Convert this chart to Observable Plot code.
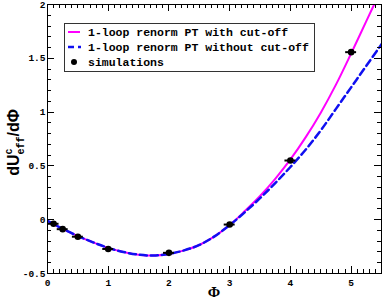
<!DOCTYPE html>
<html><head><meta charset="utf-8">
<script src="https://cdn.jsdelivr.net/npm/d3@7"></script>
<script src="https://cdn.jsdelivr.net/npm/@observablehq/plot@0.6"></script>
<style>body{margin:0;background:#fff} svg{overflow:visible}</style>
</head><body><div id="chart"></div>
<script>
// Curves (Φ grid and dU_eff^c/dΦ values)
const phiGrid    = [0, 0.25, 0.5, 0.75, 1, 1.25, 1.5, 1.75, 2, 2.25, 2.5, 2.75, 3, 3.25, 3.5, 3.75, 4, 4.25, 4.5, 4.75, 5, 5.25, 5.5];
const withCut    = [-0.01, -0.085, -0.152, -0.21, -0.262, -0.3, -0.325, -0.333, -0.318, -0.285, -0.235, -0.155, -0.05, 0.08, 0.22, 0.38, 0.56, 0.765, 0.995, 1.255, 1.545, 1.845, 2.145];
const withoutCut = [-0.01, -0.085, -0.152, -0.21, -0.262, -0.3, -0.325, -0.333, -0.318, -0.285, -0.235, -0.155, -0.05, 0.07, 0.2, 0.34, 0.49, 0.65, 0.83, 1.03, 1.23, 1.43, 1.63];
// Simulations
const phiSim = [0.1, 0.25, 0.5, 1, 2, 3, 4, 5];
const uSim   = [-0.038, -0.088, -0.158, -0.272, -0.308, -0.045, 0.55, 1.557];
const phiErr = [0.09, 0.09, 0.09, 0.09, 0.09, 0.09, 0.09, 0.09];
// Ticks and labels
const xTicks = [0, 1, 2, 3, 4, 5];
const yTicks = [-0.5, 0, 0.5, 1, 1.5, 2];
const legendLabels = ["1-loop renorm PT with cut-off", "1-loop renorm PT without cut-off", "simulations"];

const curveA = phiGrid.map((x, i) => ({x, y: withCut[i]}));
const curveB = phiGrid.map((x, i) => ({x, y: withoutCut[i]}));
const sims = phiSim.map((x, i) => ({x, y: uSim[i], e: phiErr[i]}));

const MONO = "'Liberation Mono', 'DejaVu Sans Mono', monospace";
const MAG = "#ff00ff", BLUE = "#1010f0";

const plot = Plot.plot({
  width: 382, height: 300,
  marginLeft: 47, marginRight: 1, marginTop: 4, marginBottom: 27,
  x: {domain: [0, 5.5]},
  y: {domain: [-0.5, 2]},
  style: {fontFamily: MONO, fontWeight: "bold", fontSize: "9.5px", background: "white", overflow: "visible"},
  marks: [
    Plot.line(curveA, {x: "x", y: "y", stroke: MAG, strokeWidth: 2, curve: "catmull-rom", clip: true}),
    Plot.line(curveB, {x: "x", y: "y", stroke: BLUE, strokeWidth: 2.5, strokeDasharray: "7,4", curve: "catmull-rom", clip: true}),
    Plot.ruleY(sims, {y: "y", x1: d => d.x - d.e, x2: d => d.x + d.e, stroke: "black", strokeWidth: 2}),
    Plot.dot(sims, {x: "x", y: "y", r: 3.3, fill: "black"}),
    Plot.frame({stroke: "black", strokeWidth: 1}),
    Plot.axisX({ticks: xTicks, tickSize: 0, tickPadding: 6, tickFormat: d => String(d), label: null, fill: "black"}),
    Plot.axisY({ticks: yTicks, tickSize: 0, tickPadding: 2, tickFormat: d => String(d), label: null, fill: "black"})
  ]
});
document.getElementById("chart").appendChild(plot);

const sx = plot.scale("x"), sy = plot.scale("y");
const svg = d3.select(plot);
const L = sx.apply(0), R = sx.apply(5.5), T = sy.apply(2), B = sy.apply(-0.5);
const g = svg.append("g").attr("stroke", "black").attr("stroke-width", 1);
d3.range(0, 56).forEach(i => {
  const v = i / 10, px = Math.round(sx.apply(v)) + 0.5, len = i % 10 === 0 ? 7 : 4;
  g.append("line").attr("x1", px).attr("x2", px).attr("y1", B).attr("y2", B - len);
  g.append("line").attr("x1", px).attr("x2", px).attr("y1", T).attr("y2", T + len);
});
d3.range(-5, 21).forEach(i => {
  const v = i / 10, py = Math.round(sy.apply(v)) + 0.5, len = i % 5 === 0 ? 7 : 4;
  g.append("line").attr("y1", py).attr("y2", py).attr("x1", L).attr("x2", L + len);
  g.append("line").attr("y1", py).attr("y2", py).attr("x1", R).attr("x2", R - len);
});

// Axis titles
svg.append("text").attr("x", (L + R) / 2).attr("y", 297)
  .attr("text-anchor", "middle").attr("font-family", "'Liberation Serif', serif")
  .attr("font-size", 15).attr("fill", "black").text("Φ");
const yl = svg.append("text").attr("transform", `translate(19,${(T + B) / 2 + 4}) rotate(-90)`)
  .attr("text-anchor", "middle").attr("font-family", "'Liberation Sans', sans-serif")
  .attr("font-weight", "bold").attr("font-size", 16).attr("fill", "black");
yl.append("tspan").text("dU");
yl.append("tspan").attr("font-size", 10).attr("dy", -7).attr("font-family", MONO).text("c");
yl.append("tspan").attr("font-size", 10).attr("dx", -6).attr("dy", 12).attr("font-family", MONO).text("eff");
yl.append("tspan").attr("dy", -5).text("/dΦ");

// Legend
const lg = svg.append("g");
lg.append("rect").attr("x", 64.5).attr("y", 23.5).attr("width", 250).attr("height", 48)
  .attr("fill", "white").attr("stroke", "#333").attr("stroke-width", 1);
const rows = [32, 47, 62];
lg.append("line").attr("x1", 68).attr("x2", 80).attr("y1", rows[0]).attr("y2", rows[0]).attr("stroke", MAG).attr("stroke-width", 2);
lg.append("line").attr("x1", 68).attr("x2", 81).attr("y1", rows[1]).attr("y2", rows[1]).attr("stroke", BLUE).attr("stroke-width", 2.5).attr("stroke-dasharray", "6,4");
lg.append("circle").attr("cx", 74).attr("cy", rows[2]).attr("r", 3).attr("fill", "black");
legendLabels.forEach((t, i) => {
  lg.append("text").attr("x", 88).attr("y", rows[i] + 4).attr("text-anchor", "start").attr("font-family", MONO)
    .attr("font-weight", "bold").attr("font-size", 11.5).attr("fill", "black").text(t);
});
</script></body></html>
